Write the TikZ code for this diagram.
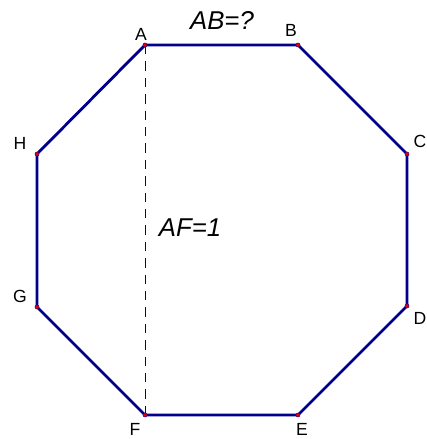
\documentclass[tikz,border=0pt]{standalone}
\usepackage{fontspec}
\setmainfont{Liberation Sans}
\usepackage{xcolor}
\usetikzlibrary{calc}

\definecolor{edgeblue}{RGB}{0,0,140}
\definecolor{dotred}{RGB}{230,0,0}

\begin{document}
\begin{tikzpicture}[x=0.03cm,y=-0.03cm]
    \useasboundingbox (0,0) rectangle (427,439);
    \tikzset{
      vlabel/.style={inner sep=0pt,font=\fontsize{15}{17}\selectfont},
      len/.style={inner sep=0pt,font=\fontsize{22}{24}\selectfont\itshape},
      side/.style={edgeblue,line width=2.4pt,line join=round},
      vdot/.style={fill=dotred,draw=edgeblue,line width=0.3pt}
    }
    \coordinate (A) at (145,45);
    \coordinate (B) at (298,45);
    \coordinate (C) at (407,154);
    \coordinate (D) at (407,306);
    \coordinate (E) at (298,415);
    \coordinate (F) at (145,415);
    \coordinate (G) at (37,307);
    \coordinate (H) at (37,154);
    \draw[edgeblue,line width=0.5pt,dash pattern=on 8pt off 6pt] (A) -- (F);
    \draw[side] (A) -- (B) -- (C) -- (D) -- (E) -- (F) -- (G) -- (H) -- cycle;
    \foreach \p in {A,B,C,D,E,F,G,H}
      \fill[vdot] (\p) circle (1.8pt);
    \node[vlabel] (lA) at (141,34) {A};
    \node[vlabel] (lB) at (291,30) {B};
    \node[vlabel] (lC) at (420,141) {C};
    \node[vlabel] (lD) at (420,318) {D};
    \node[vlabel] (lE) at (302,429) {E};
    \node[vlabel] (lF) at (135,429) {F};
    \node[vlabel] (lG) at (20,296) {G};
    \node[vlabel] (lH) at (20,143) {H};
    \node[len] (ab) at (222,20) {AB=?};
    \node[len] (af) at (190,228) {AF=1};
  \end{tikzpicture}
\end{document}
